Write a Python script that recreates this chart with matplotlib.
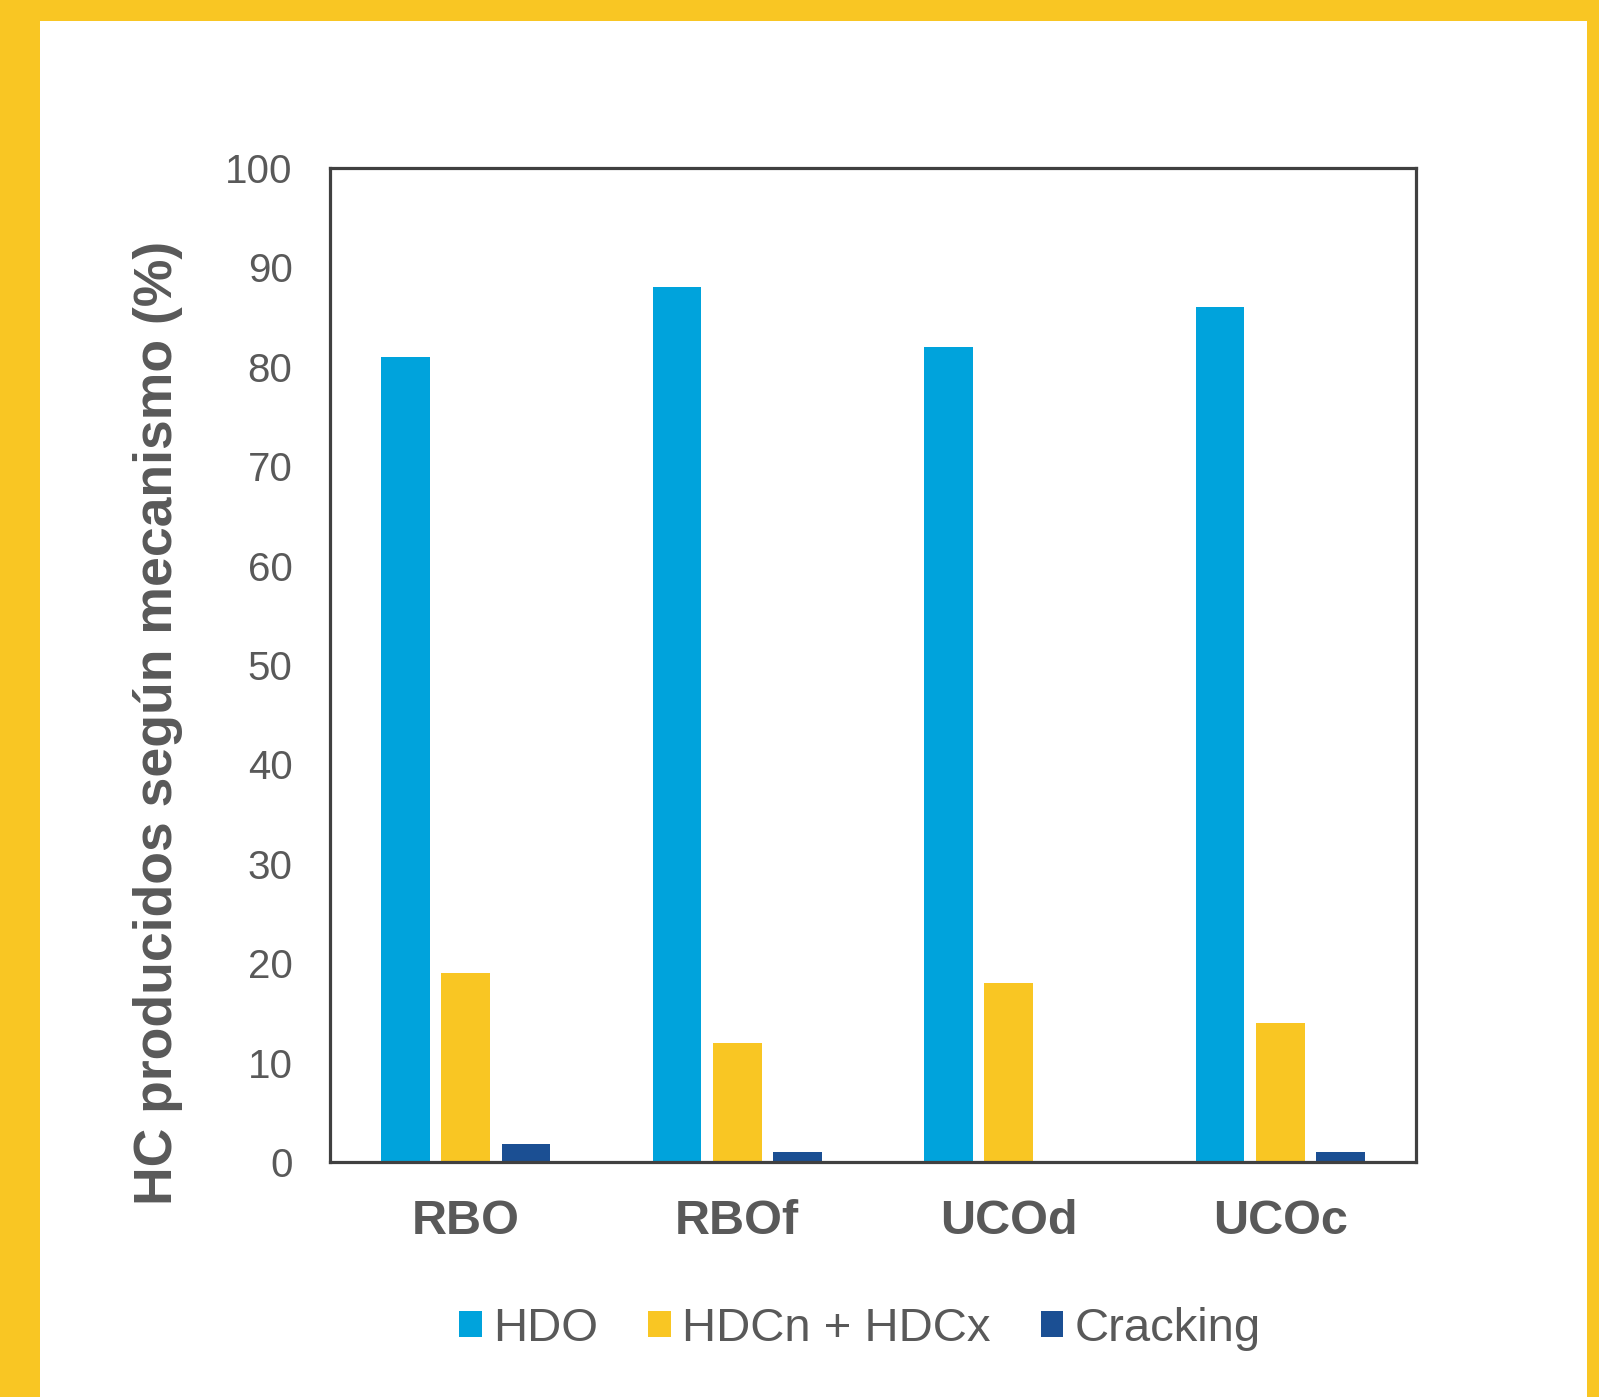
import matplotlib
matplotlib.use("Agg")
import matplotlib.pyplot as plt
from matplotlib.patches import Rectangle
import numpy as np

categories = ["RBO", "RBOf", "UCOd", "UCOc"]
hdo = [81, 88, 82, 86]
hdc = [19, 12, 18, 14]
cracking = [1.8, 1.0, 0.0, 1.0]
series_names = ["HDO", "HDCn + HDCx", "Cracking"]
yticks = [0, 10, 20, 30, 40, 50, 60, 70, 80, 90, 100]

c_hdo = "#00A3DC"
c_hdc = "#F9C623"
c_crk = "#1B4F93"
text_gray = "#595959"

plt.rcParams['font.family'] = ['Liberation Sans', 'DejaVu Sans']

W, H = 1599, 1397
fig = plt.figure(figsize=(W / 100, H / 100), dpi=100)
fig.patch.set_facecolor("#F9C623")
fig.add_artist(Rectangle((40 / W, 0), (1587 - 40) / W, (H - 21) / H,
                         transform=fig.transFigure, facecolor="white",
                         edgecolor="none", zorder=-1))

ax = fig.add_axes([330 / W, 1 - 1162 / H, (1416 - 330) / W, (1162 - 168) / H])
x = np.arange(len(categories))
off = 0.222
bw = 0.18
b1 = ax.bar(x - off, hdo, bw, color=c_hdo, label=series_names[0], zorder=2)
b2 = ax.bar(x, hdc, bw, color=c_hdc, label=series_names[1], zorder=2)
b3 = ax.bar(x + off, cracking, bw, color=c_crk, label=series_names[2], zorder=2)

ax.set_xlim(-0.5, len(categories) - 0.5)
ax.set_ylim(0, 100)
ax.set_yticks(yticks)
ax.set_yticklabels([str(t) for t in yticks], fontsize=29, color=text_gray)
ax.set_xticks(x)
ax.set_xticklabels(categories, fontsize=35, fontweight="bold", color=text_gray)
ax.tick_params(axis="y", length=0, pad=27)
ax.tick_params(axis="x", length=0, pad=27)
for s in ax.spines.values():
    s.set_linewidth(2.3)
    s.set_color("#404040")

fig.text(158 / W, 1 - 723 / H, "HC producidos según mecanismo (%)", rotation=90,
         ha="center", va="center", fontsize=38.5, fontweight="bold", color=text_gray)

leg = fig.legend(handles=[b1, b2, b3], labels=series_names, loc="center",
                 bbox_to_anchor=(860 / W, 1 - 1329 / H), ncol=3, frameon=False,
                 fontsize=34, handlelength=0.48, handleheight=0.48,
                 handletextpad=0.25, columnspacing=1.05, labelcolor=text_gray)

fig.savefig("out.png", dpi=100, facecolor=fig.get_facecolor())
